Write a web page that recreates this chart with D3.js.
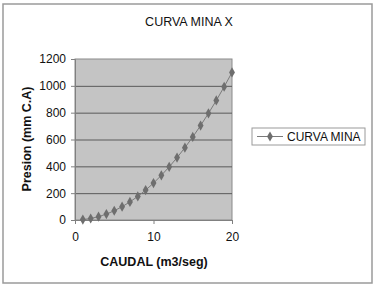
<!DOCTYPE html>
<html>
<head>
<meta charset="utf-8">
<script src="https://cdn.jsdelivr.net/npm/d3@7"></script>
<style>
  body { margin: 0; background: #fff; }
  text { font-family: "Liberation Sans", Arial, sans-serif; }
</style>
</head>
<body>
<div id="chart"></div>
<script>
const caudal = [1, 2, 3, 4, 5, 6, 7, 8, 9, 10, 11, 12, 13, 14, 15, 16, 17, 18, 19, 20];
const presion = [3, 11, 25, 44, 69, 99, 135, 176, 223, 275, 333, 396, 465, 539, 619, 704, 795, 891, 993, 1100];
const xTicks = [0, 10, 20];
const yTicks = [0, 200, 400, 600, 800, 1000, 1200];
const seriesName = "CURVA MINA";

const width = 377, height = 287;
const plot = { l: 75, r: 232, t: 59, b: 220 };

const svg = d3.select("#chart").append("svg").attr("width", width).attr("height", height);

// outer frame
svg.append("rect").attr("x", 3).attr("y", 4).attr("width", 369).attr("height", 279)
  .attr("fill", "#fff").attr("stroke", "#9a9a9a").attr("stroke-width", 1.5);

const x = d3.scaleLinear().domain([0, 20]).range([plot.l, plot.r]);
const y = d3.scaleLinear().domain([0, 1200]).range([plot.b, plot.t]);

// plot background
svg.append("rect").attr("x", plot.l).attr("y", plot.t)
  .attr("width", plot.r - plot.l).attr("height", plot.b - plot.t)
  .attr("fill", "#c4c4c4").attr("stroke", "#8a8a8a").attr("stroke-width", 1);

// gridlines
svg.append("g").selectAll("line").data(yTicks.slice(1, -1)).enter().append("line")
  .attr("x1", plot.l).attr("x2", plot.r)
  .attr("y1", (d) => y(d) + 0.5).attr("y2", (d) => y(d) + 0.5)
  .attr("stroke", "#5a5a5a").attr("stroke-width", 1);

// axes
const yAxis = svg.append("g").attr("transform", `translate(${plot.l},0)`)
  .call(d3.axisLeft(y).tickValues(yTicks).tickFormat(d3.format("d")).tickSize(4).tickPadding(5));
const xAxis = svg.append("g").attr("transform", `translate(0,${plot.b})`)
  .call(d3.axisBottom(x).tickValues(xTicks).tickFormat(d3.format("d")).tickSize(4).tickPadding(8));
[yAxis, xAxis].forEach((g) => {
  g.select(".domain").attr("stroke", "#808080");
  g.selectAll(".tick line").attr("stroke", "#808080");
  g.selectAll("text").attr("font-size", 12).attr("fill", "#111")
    .attr("font-family", "Liberation Sans, Arial, sans-serif");
});

// series
const pts = caudal.map((c, i) => [c, presion[i]]);
svg.append("path").datum(pts)
  .attr("fill", "none").attr("stroke", "#7a7a7a").attr("stroke-width", 1)
  .attr("d", d3.line().x((d) => x(d[0])).y((d) => y(d[1])));

const diamond = d3.symbol().type(d3.symbolDiamond).size(30);
svg.append("g").selectAll("path").data(pts).enter().append("path")
  .attr("d", diamond)
  .attr("transform", (d) => `translate(${x(d[0])},${y(d[1])})`)
  .attr("fill", "#6e6e6e");

// titles
svg.append("text").attr("x", 189).attr("y", 26).attr("text-anchor", "middle")
  .attr("font-size", 12.5).attr("fill", "#111").text("CURVA MINA X");
svg.append("text").attr("x", 154).attr("y", 266).attr("text-anchor", "middle")
  .attr("font-size", 12.5).attr("font-weight", "bold").attr("fill", "#111").text("CAUDAL (m3/seg)");
svg.append("text").attr("transform", "translate(31,139) rotate(-90)").attr("text-anchor", "middle")
  .attr("font-size", 12.5).attr("font-weight", "bold").attr("fill", "#111").text("Presion (mm C.A)");

// legend
const lg = svg.append("g").attr("transform", "translate(252,128)");
lg.append("rect").attr("width", 113).attr("height", 17)
  .attr("fill", "#fff").attr("stroke", "#9a9a9a").attr("stroke-width", 1);
lg.append("line").attr("x1", 5).attr("x2", 31).attr("y1", 8.5).attr("y2", 8.5)
  .attr("stroke", "#7a7a7a").attr("stroke-width", 1);
lg.append("path").attr("d", diamond).attr("transform", "translate(18,8.5)").attr("fill", "#6e6e6e");
lg.append("text").attr("x", 35).attr("y", 13).attr("font-size", 12).attr("fill", "#111").text(seriesName);
</script>
</body>
</html>
